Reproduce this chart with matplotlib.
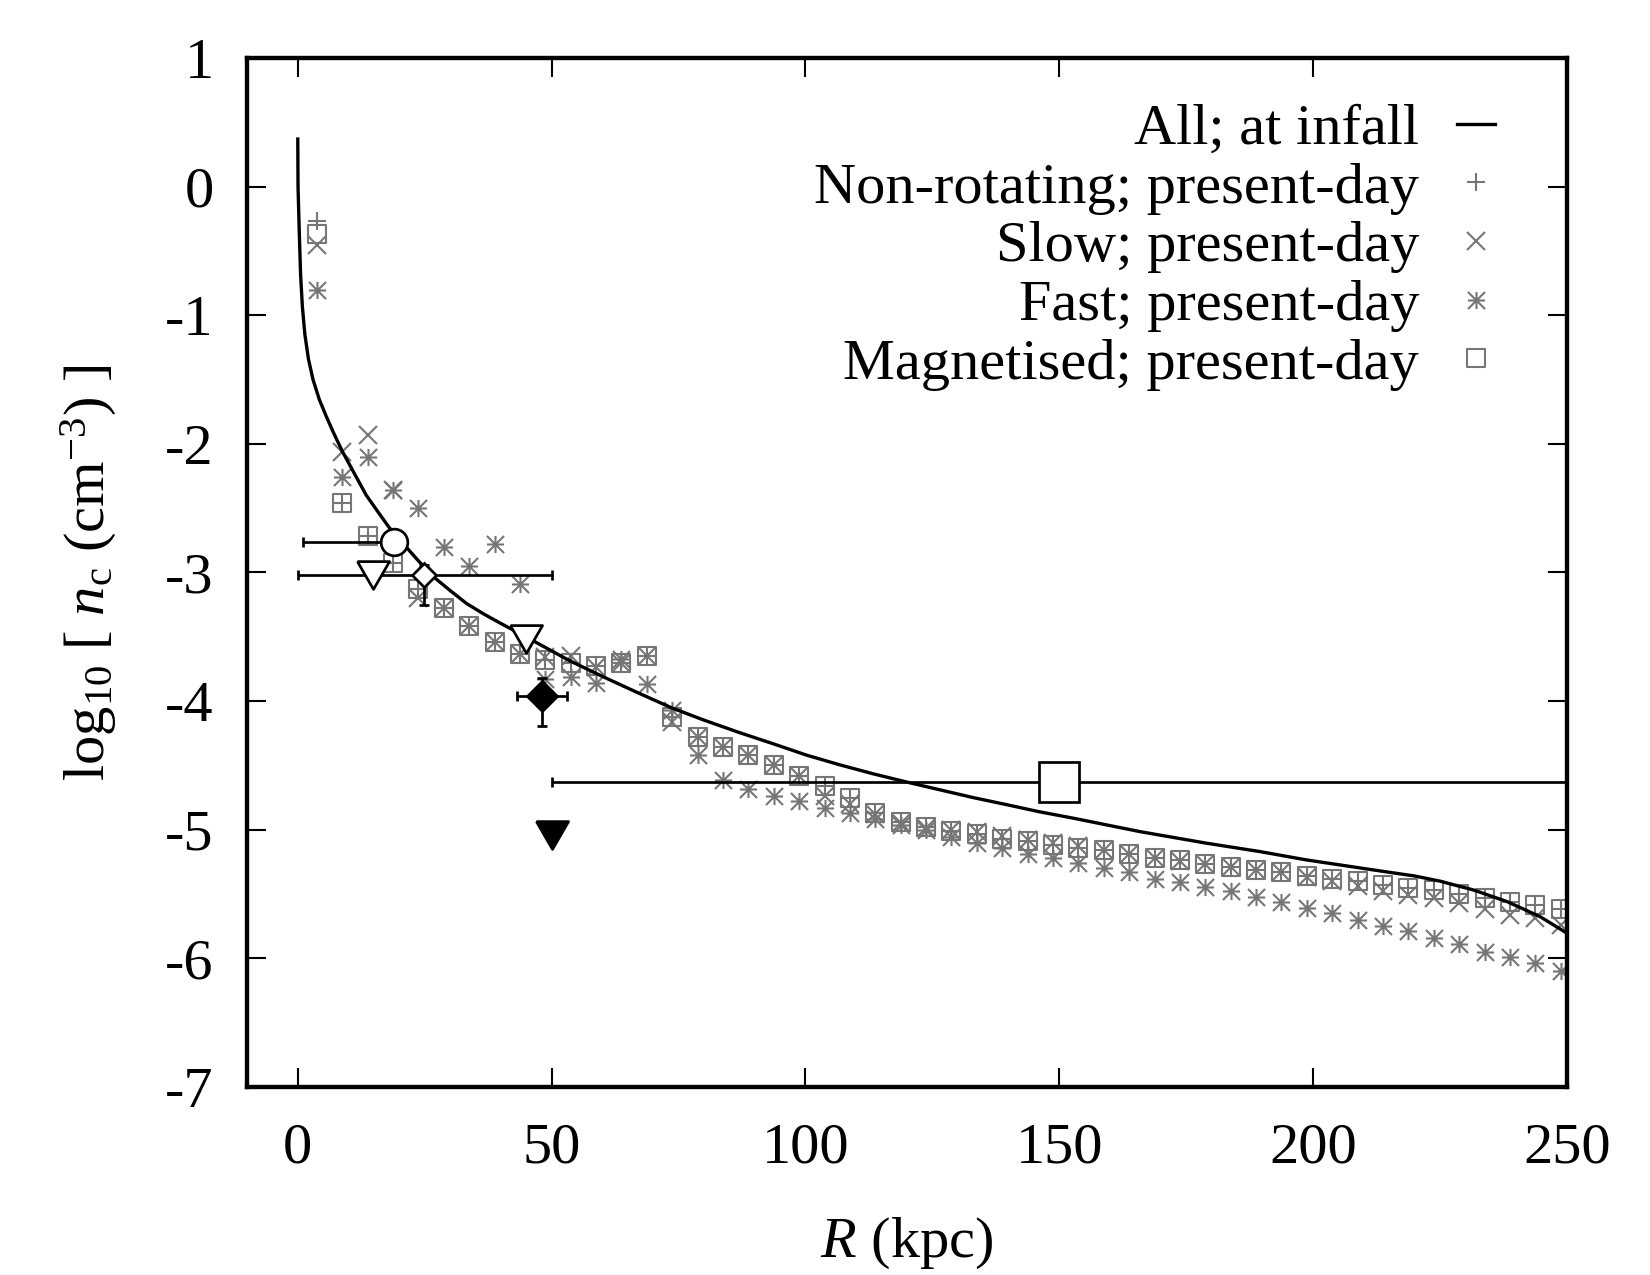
import matplotlib
matplotlib.use('agg')
import matplotlib.pyplot as plt
from matplotlib.path import Path

plt.rcParams['font.family'] = ['Liberation Serif', 'DejaVu Serif']
plt.rcParams['mathtext.fontset'] = 'custom'
plt.rcParams['mathtext.rm'] = 'Liberation Serif'
plt.rcParams['mathtext.it'] = 'Liberation Serif:italic'
plt.rcParams['axes.unicode_minus'] = False

# simulated profiles, sampled every 5 kpc
r_sim = [3.75 + 5 * k for k in range(50)]

nonrot = [-0.27, -2.46, -2.72, -2.93, -3.13, -3.28, -3.42, -3.54, -3.63, -3.68,
          -3.70, -3.73, -3.70, -3.65, -4.12, -4.28, -4.355, -4.42, -4.50, -4.58,
          -4.66, -4.755, -4.87, -4.94, -4.98, -5.01, -5.03, -5.07, -5.085, -5.12,
          -5.14, -5.16, -5.19, -5.22, -5.235, -5.265, -5.29, -5.31, -5.33, -5.36,
          -5.385, -5.40, -5.43, -5.45, -5.47, -5.50, -5.53, -5.565, -5.585, -5.62]
slow = [-0.45, -2.06, -1.935, -2.36, -3.20, -3.28, -3.42, -3.54, -3.63, -3.66,
        -3.65, -3.735, -3.70, -3.653, -4.16, -4.28, -4.355, -4.42, -4.50, -4.58,
        -4.74, -4.80, -4.88, -4.95, -4.99, -5.00, -5.02, -5.05, -5.08, -5.10,
        -5.13, -5.16, -5.19, -5.22, -5.24, -5.27, -5.29, -5.31, -5.33, -5.37,
        -5.40, -5.44, -5.48, -5.51, -5.53, -5.57, -5.62, -5.66, -5.69, -5.74]
fast = [-0.80, -2.26, -2.10, -2.36, -2.50, -2.80, -2.95, -2.78, -3.09, -3.83,
        -3.81, -3.86, -3.67, -3.87, -4.07, -4.42, -4.61, -4.68, -4.74, -4.78,
        -4.83, -4.87, -4.92, -4.96, -5.00, -5.06, -5.105, -5.145, -5.185, -5.22,
        -5.26, -5.30, -5.325, -5.38, -5.41, -5.445, -5.48, -5.525, -5.56, -5.61,
        -5.65, -5.70, -5.75, -5.79, -5.84, -5.89, -5.95, -5.99, -6.04, -6.10]
magnet = [-0.37, -2.46, -2.72, -2.93, -3.13, -3.28, -3.42, -3.54, -3.63, -3.68,
          -3.70, -3.73, -3.70, -3.65, -4.12, -4.28, -4.355, -4.42, -4.50, -4.58,
          -4.66, -4.755, -4.87, -4.94, -4.98, -5.01, -5.03, -5.07, -5.085, -5.12,
          -5.14, -5.16, -5.19, -5.22, -5.235, -5.265, -5.29, -5.31, -5.33, -5.36,
          -5.385, -5.40, -5.43, -5.45, -5.47, -5.50, -5.53, -5.565, -5.585, -5.62]

# profile at infall
r_infall = [0.0, 0.05, 0.3, 0.55, 0.9, 1.4, 2.1, 3.0, 4.24, 5.6, 7.0, 8.8, 11.0, 13.5,
            16.0, 18.0, 21.3, 24.0, 26.6, 30.0, 33.2, 36.5, 39.7, 42.3, 45.0, 47.0,
            53.5, 60.1, 66.7, 73.5, 79.8, 87.0, 93.5, 100.2, 106.7, 113.3, 120.0,
            126.5, 133.0, 139.6, 146.0, 152.7, 165.9, 179.0, 189.5, 198.7, 211.9,
            220.0, 225.0, 231.6, 238.2, 244.7, 250.0]
n_infall = [0.37, 0.0, -0.36, -0.68, -0.93, -1.15, -1.34, -1.50, -1.655, -1.785, -1.91,
            -2.06, -2.22, -2.40, -2.54, -2.65, -2.80, -2.92, -3.03, -3.14, -3.24, -3.32,
            -3.39, -3.445, -3.50, -3.545, -3.685, -3.81, -3.93, -4.05, -4.145, -4.245,
            -4.33, -4.42, -4.495, -4.565, -4.63, -4.69, -4.75, -4.805, -4.86, -4.91,
            -5.015, -5.105, -5.17, -5.235, -5.313, -5.36, -5.40, -5.469, -5.559,
            -5.676, -5.805]

# observational constraints
circ_r, circ_n, circ_xlo = 19.0, -2.76, 18.0
tri1_r, tri1_n, tri1_xlo, tri1_xhi = 14.9, -3.02, 14.9, 35.1
odia_r, odia_n, odia_ylo, odia_yhi = 24.9, -3.02, 0.23, 0.08
tri2_r, tri2_n = 45.0, -3.52
fdia_r, fdia_n, fdia_xerr, fdia_ylo, fdia_yhi = 48.1, -3.96, 5.0, 0.23, 0.14
ftri_r, ftri_n = 50.0, -5.04
bsq_r, bsq_n, bsq_xlo, bsq_xhi = 150.0, -4.63, 100.0, 110.0

gray = '#767676'
M, L, C = Path.MOVETO, Path.LINETO, Path.CLOSEPOLY
asterisk = Path([(-1, 0), (1, 0), (0, -1), (0, 1), (-1, -1), (1, 1), (-1, 1), (1, -1)],
                [M, L] * 4)
d = 0.05
dotted_square = Path([(-1, -1), (1, -1), (1, 1), (-1, 1), (-1, -1),
                      (-d, -d), (d, -d), (d, d), (-d, d), (-d, -d)],
                     [M, L, L, L, C, M, L, L, L, C])
tri_down = [(-1, 0.866), (1, 0.866), (0, -0.866), (-1, 0.866)]

fig = plt.figure(figsize=(11, 8.5), dpi=150)
ax = fig.add_axes([0.1497, 0.1475, 0.80, 0.807])

ax.plot(r_infall, n_infall, color='k', lw=1.6, zorder=3, label='All; at infall')
ms = 8.2
ax.plot(r_sim, nonrot, ls='none', marker='+', ms=ms, mew=1.0, color=gray,
        label='Non-rotating; present-day', zorder=2)
ax.plot(r_sim, slow, ls='none', marker='x', ms=ms, mew=1.0, color=gray,
        label='Slow; present-day', zorder=2)
ax.plot(r_sim, fast, ls='none', marker=asterisk, ms=ms, mew=1.0, color=gray,
        label='Fast; present-day', zorder=2)
ax.plot(r_sim, magnet, ls='none', marker=dotted_square, ms=ms, mew=1.0, mfc='none',
        mec=gray, label='Magnetised; present-day', zorder=2)

eb = dict(ecolor='k', elinewidth=1.3, capsize=2.2, capthick=1.3, mec='k', mew=1.3)
ax.errorbar([bsq_r], [bsq_n], xerr=[[bsq_xlo], [bsq_xhi]], fmt='s', ms=18.8,
            mfc='white', zorder=4, **eb)
ax.errorbar([tri1_r], [tri1_n], xerr=[[tri1_xlo], [tri1_xhi]], fmt='none', zorder=4, **eb)
ax.plot([tri1_r], [tri1_n], ls='none', marker=tri_down, ms=15.4, mfc='white',
        mec='k', mew=1.3, zorder=5)
ax.errorbar([circ_r], [circ_n], xerr=[[circ_xlo], [0]], fmt='o', ms=12.8,
            mfc='white', zorder=5, **eb)
ax.errorbar([odia_r], [odia_n], yerr=[[odia_ylo], [odia_yhi]], fmt='D', ms=8.3,
            mfc='white', zorder=6, **eb)
ax.plot([tri2_r], [tri2_n], ls='none', marker=tri_down, ms=15.4, mfc='white',
        mec='k', mew=1.3, zorder=5)
ax.errorbar([fdia_r], [fdia_n], xerr=[[fdia_xerr], [fdia_xerr]],
            yerr=[[fdia_ylo], [fdia_yhi]], fmt='D', ms=10.3, mfc='k', zorder=5, **eb)
ax.plot([ftri_r], [ftri_n], ls='none', marker=tri_down, ms=15.4, mfc='k',
        mec='k', mew=1.3, zorder=5)

ax.set_xlim(-10, 250)
ax.set_ylim(-7, 1)
ax.set_xticks([0, 50, 100, 150, 200, 250])
ax.set_yticks([1, 0, -1, -2, -3, -4, -5, -6, -7])
ax.tick_params(direction='in', length=9, width=1.0, top=True, right=True,
               labelsize=28, pad=16)
ax.tick_params(axis='x', pad=17)
for s in ax.spines.values():
    s.set_linewidth(2.1)

ax.set_xlabel('$R$ (kpc)', fontsize=28, labelpad=20)
ax.set_ylabel('log$_{10}$ [ $n_\\mathrm{c}$ (cm$^{-3}$) ]', fontsize=28, labelpad=22)

leg = ax.legend(loc='upper right', bbox_to_anchor=(0.9455, 0.956), frameon=False,
                markerfirst=False, fontsize=28, handlelength=0.65, handletextpad=0.65,
                labelspacing=0.1, borderpad=0, borderaxespad=0)

fig.savefig('out.png', dpi=150)
